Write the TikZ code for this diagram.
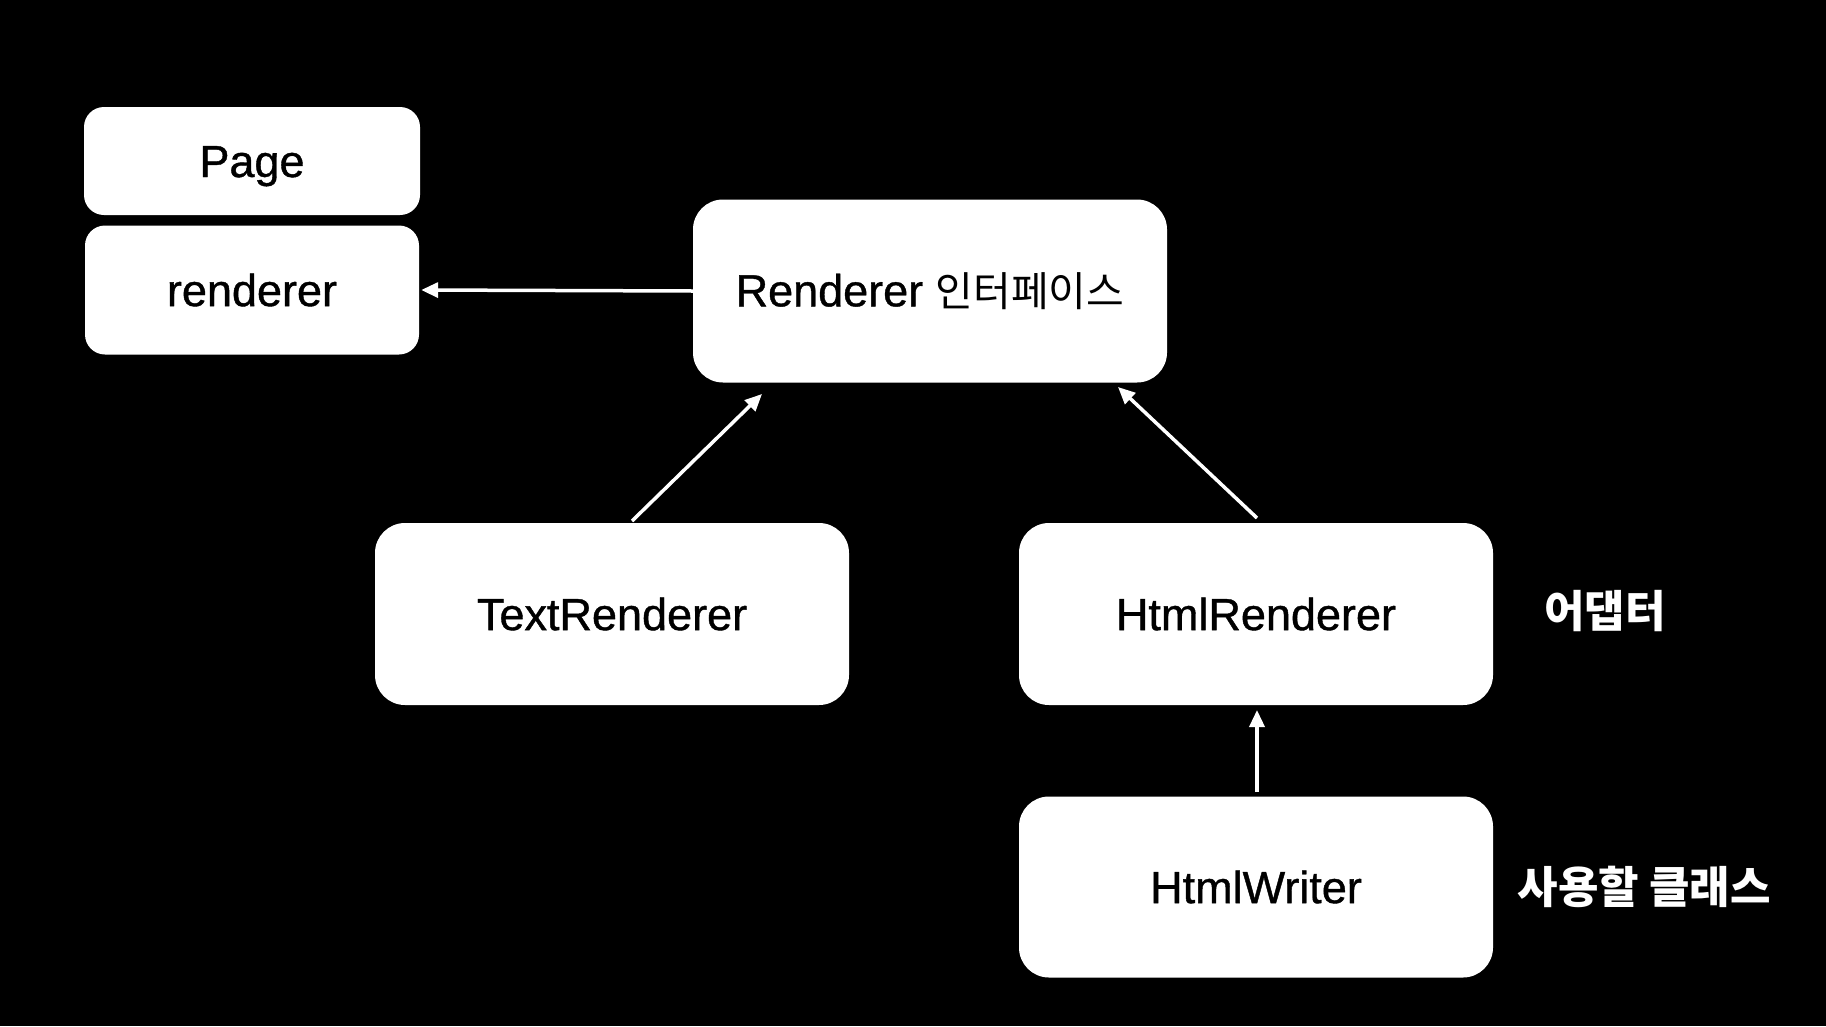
\documentclass[tikz,border=0pt]{standalone}
\usepackage{fontspec}
\setmainfont[FakeBold=1]{Liberation Sans}
\newfontfamily\medfont[FakeBold=0.9]{Liberation Sans}
\newfontfamily\kr{Noto Sans CJK KR}
\newfontfamily\krlbl{Noto Sans CJK KR}
\usetikzlibrary{arrows.meta}
\tikzset{
  box/.style={draw=none, fill=white, rounded corners=#1, inner sep=0pt, text=black,
    font=\medfont\fontsize{45}{50}\selectfont},
  box/.default=30pt,
  conn/.style={draw=white, line width=3.5pt, -{Triangle[length=17pt,width=15pt]}},
  lbl/.style={text=white, font=\krlbl\bfseries\fontsize{44}{48}\selectfont, inner sep=0pt}
}
\begin{document}
\begin{tikzpicture}[x=1pt,y=-1pt]
\fill[black] (0,0) rectangle (1826,1026);
\useasboundingbox (0,0) rectangle (1826,1026);
\node[box=20pt, minimum width=336pt, minimum height=108pt, text height=32pt, text depth=0pt] (page) at (252,161) {Page};
\node[box=20pt, minimum width=334pt, minimum height=129pt] (rend) at (252,290) {renderer};
\node[box, minimum width=474pt, minimum height=183pt] (iface) at (930,291) {Renderer {\kr\fontsize{41}{48}\selectfont 인터페이스}};
\node[box, minimum width=474pt, minimum height=182pt] (text) at (612,614) {TextRenderer};
\node[box, minimum width=474pt, minimum height=182pt] (html) at (1256,614) {HtmlRenderer};
\node[box, minimum width=474pt, minimum height=181pt] (writer) at (1256,887) {HtmlWriter};
\node[lbl] (adapter) at (1605,611) {어댑터};
\node[lbl] (use) at (1644,887) {사용할 클래스};
\coordinate (t1) at (632,521);
\coordinate (t2) at (762,394);
\coordinate (h1) at (1257,518);
\coordinate (h2) at (1118,387);
\coordinate (w1) at (1257,792);
\coordinate (w2) at (1257,710);
\draw[conn] (iface.west) -- ([xshift=2pt]rend.east);
\draw[conn] (t1) -- (t2);
\draw[conn] (h1) -- (h2);
\draw[conn] (w1) -- (w2);
\end{tikzpicture}
\end{document}
